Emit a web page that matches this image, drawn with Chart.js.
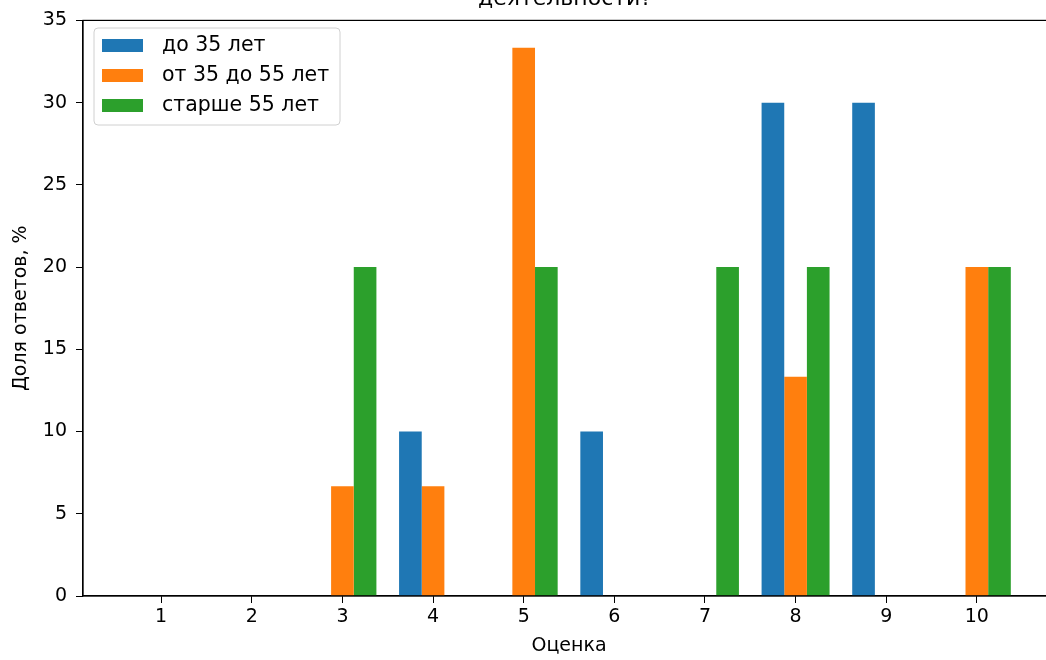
<!DOCTYPE html>
<html>
<head>
<meta charset="utf-8">
<script src="https://cdn.jsdelivr.net/npm/chart.js@4/dist/chart.umd.min.js"></script>
<style>
  html, body { margin: 0; padding: 0; background: #fff; overflow: hidden; }
  #wrap { width: 1060px; height: 660px; }
</style>
</head>
<body>
<div id="wrap"><canvas id="grafico"></canvas></div>
<script>
// оценки 1..10, доля ответов в %
const ocenki = [1, 2, 3, 4, 5, 6, 7, 8, 9, 10];
const do35 = [0, 0, 0, 10, 0, 10, 0, 30, 30, 0];
const ot35do55 = [0, 0, 6.67, 6.67, 33.33, 0, 0, 13.33, 0, 20];
const starshe55 = [0, 0, 20, 0, 20, 0, 20, 20, 0, 20];
const yTicks = [0, 5, 10, 15, 20, 25, 30, 35];

const groups = ["до 35 лет", "от 35 до 55 лет", "старше 55 лет"];
const colors = ["#1f77b4", "#ff7f0e", "#2ca02c"];
const shrift = "'DejaVu Sans', sans-serif";

const toPoints = (arr) => ocenki.map((x, i) => ({ x: x, y: arr[i] }));

// рамка, заголовок (обрезан сверху) и легенда
const extras = {
  id: "extras",
  afterDraw(chart) {
    const ctx = chart.ctx;
    const a = chart.chartArea;
    ctx.save();
    ctx.strokeStyle = "#000";
    ctx.lineWidth = 1.2;
    ctx.strokeRect(a.left, a.top, a.right - a.left, a.bottom - a.top);

    ctx.fillStyle = "#000";
    ctx.font = "22px " + shrift;
    ctx.textAlign = "center";
    ctx.textBaseline = "alphabetic";
    ctx.fillText("деятельности?", 565, 5);

    // легенда
    const bx = 94, by = 28, bw = 246, bh = 97;
    ctx.beginPath();
    ctx.roundRect(bx, by, bw, bh, 4);
    ctx.fillStyle = "rgba(255,255,255,0.8)";
    ctx.fill();
    ctx.strokeStyle = "#d0d0d0";
    ctx.lineWidth = 1;
    ctx.stroke();
    ctx.font = "20.5px " + shrift;
    ctx.textAlign = "left";
    ctx.textBaseline = "middle";
    chart.data.datasets.forEach((ds, i) => {
      const cy = 45 + i * 30;
      ctx.fillStyle = ds.backgroundColor;
      ctx.fillRect(102, cy - 6, 41, 13);
      ctx.fillStyle = "#000";
      ctx.fillText(ds.label, 162, cy + 1);
    });
    ctx.restore();
  },
};

new Chart(document.getElementById("grafico"), {
  type: "bar",
  data: {
    datasets: groups.map((g, i) => ({
      label: g,
      data: toPoints([do35, ot35do55, starshe55][i]),
      backgroundColor: colors[i],
      borderWidth: 0,
      categoryPercentage: 0.75,
      barPercentage: 1,
    })),
  },
  options: {
    responsive: true,
    maintainAspectRatio: false,
    animation: false,
    layout: { padding: { top: 18, right: 5, left: 0, bottom: 0 } },
    plugins: { legend: { display: false }, tooltip: { enabled: false } },
    scales: {
      x: {
        type: "linear",
        offset: false,
        min: 0.1375,
        max: 10.8625,
        afterBuildTicks: (s) => { s.ticks = ocenki.map((v) => ({ value: v })); },
        afterFit: (s) => { s.height = 64; },
        ticks: { color: "#000", font: { size: 19, family: shrift }, padding: 3, includeBounds: false },
        grid: { offset: false, drawOnChartArea: false, color: "#000", tickLength: 7, tickColor: "#000" },
        border: { color: "#000", width: 1.2 },
        title: { display: true, text: "Оценка", color: "#000", font: { size: 19, family: shrift }, padding: { top: 0, bottom: 3 } },
      },
      y: {
        min: 0,
        max: 35,
        afterBuildTicks: (s) => { s.ticks = yTicks.map((v) => ({ value: v })); },
        afterFit: (s) => { s.width = 83; },
        ticks: { color: "#000", font: { size: 19, family: shrift }, padding: 9 },
        grid: { drawOnChartArea: false, color: "#000", tickLength: 7, tickColor: "#000" },
        border: { color: "#000", width: 1.2 },
        title: { display: true, text: "Доля ответов, %", color: "#000", font: { size: 19, family: shrift }, padding: { top: 10, bottom: 0 } },
      },
    },
  },
  plugins: [extras],
});
</script>
</body>
</html>
